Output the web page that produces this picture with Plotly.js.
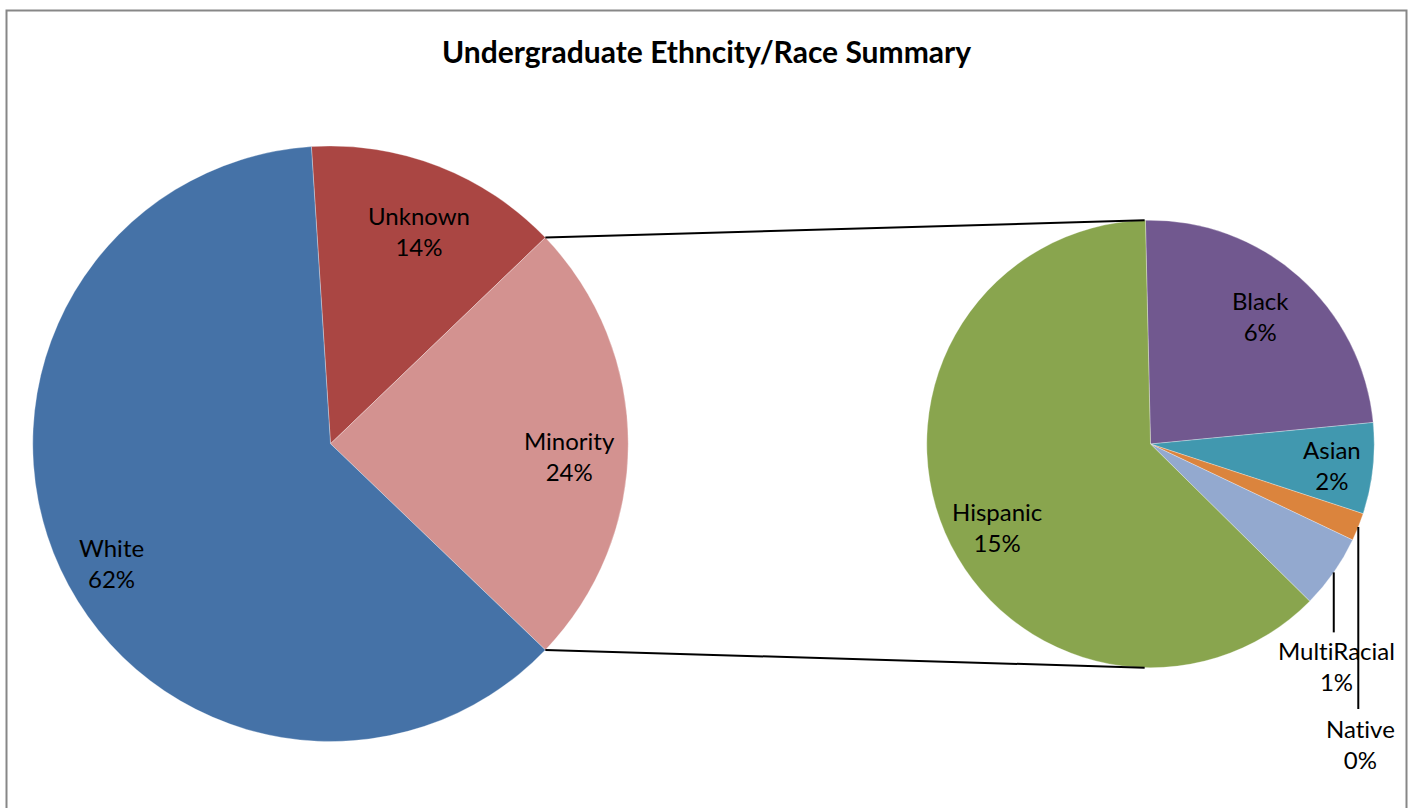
<!DOCTYPE html>
<html><head><meta charset="utf-8">
<script src="https://cdn.plot.ly/plotly-3.0.1.min.js"></script>
<style>html,body{margin:0;padding:0;background:#fff;overflow:hidden}#chart{width:1413px;height:808px;}
svg text{font-variant-ligatures:none;font-feature-settings:"liga" 0,"clig" 0;}</style>
</head><body><div id="chart"></div>
<script>
// ---- data ----
const mainLabels = ['Unknown', 'Minority', 'White'];
const mainValues = [13.85, null, 61.8];           // Minority = sum of minorityValues
const minorityLabels = ['Black', 'Asian', 'Native', 'MultiRacial', 'Hispanic'];
const minorityValues = [5.8, 1.6, 0.49, 1.3, 15.15];
const titleText = 'Undergraduate Ethncity/Race Summary';

// ---- style ----
const mainColors = ['#AA4643', '#D39290', '#4572A7'];
const minorityColors = ['#71588F', '#4198AF', '#DB843D', '#93A9CF', '#89A54E'];
const mainLabelRadius = [0.776, 0.805, 0.836];
const mainLabelAngleShift = [1.4, 3, -3.6];
const minorityLabelRadius = [0.754, 0.817, null, null, 0.78];
const minorityLabelAngleShift = [-1, 0.4, 0, 0, -4.9];
const outsideLeader = {Native: [182, 35, 2], MultiRacial: [60, 34, 2.5]}; // line length, label gap, x shift (px)

const W = 1413, H = 808;
const FONT = 'Lato, "Open Sans", sans-serif';
const LABEL_SIZE = 24;

const minorityTotal = minorityValues.reduce((a, b) => a + b, 0);
const mainVals = mainValues.map((v, i) => mainLabels[i] === 'Minority' ? minorityTotal : v);
const grandTotal = mainVals.reduce((a, b) => a + b, 0);
const pct = v => Math.round(v / grandTotal * 100) + '%';

// geometry of the two pies (pixels)
const P1 = {cx: 330.5, cy: 443.75, r: 297.75};
const P2 = {cx: 1150.5, cy: 444, r: 223.75};
const dom = p => ({x: [(p.cx - p.r) / W, (p.cx + p.r) / W], y: [1 - (p.cy + p.r) / H, 1 - (p.cy - p.r) / H]});
const pt = (p, ang, f) => {
  const a = ang * Math.PI / 180;
  return [p.cx + p.r * f * Math.sin(a), p.cy - p.r * f * Math.cos(a)];
};
const toPaper = xy => [xy[0] / W, 1 - xy[1] / H];

// main pie: Minority slice centred on 3 o'clock
const mIdx = mainLabels.indexOf('Minority');
let before = 0;
for (let i = 0; i < mIdx; i++) before += mainVals[i];
const mainRot = 90 - (minorityTotal / grandTotal * 360) / 2 - before / grandTotal * 360;
const minorityRot = -1.3;

function slices(vals, rot) {
  const tot = vals.reduce((a, b) => a + b, 0);
  let a = rot; const out = [];
  vals.forEach(v => { const s = v / tot * 360; out.push({start: a, end: a + s, mid: a + s / 2}); a += s; });
  return out;
}
const mainSl = slices(mainVals, mainRot);
const minSl = slices(minorityValues, minorityRot);

const annotations = [];
const shapes = [];
const lblFont = {family: FONT, size: LABEL_SIZE, color: '#000'};

mainLabels.forEach((l, i) => {
  const p = toPaper(pt(P1, mainSl[i].mid + mainLabelAngleShift[i], mainLabelRadius[i]));
  annotations.push({x: p[0], y: p[1], xref: 'paper', yref: 'paper', xanchor: 'center', yanchor: 'middle',
    text: l + '<br>' + pct(mainVals[i]), showarrow: false, font: lblFont});
});
minorityLabels.forEach((l, i) => {
  if (outsideLeader[l]) {
    const [len, gap, dx] = outsideLeader[l];
    const s = pt(P2, minSl[i].mid, 1);
    const e = [s[0], s[1] + len];
    const ps = toPaper(s), pe = toPaper(e);
    shapes.push({type: 'line', xref: 'paper', yref: 'paper', x0: ps[0], y0: ps[1], x1: pe[0], y1: pe[1],
      line: {color: '#000', width: 2}});
    const lp = toPaper([e[0] + dx, e[1] + gap]);
    annotations.push({x: lp[0], y: lp[1], xref: 'paper', yref: 'paper', xanchor: 'center', yanchor: 'middle',
      text: l + '<br>' + pct(minorityValues[i]), showarrow: false, font: lblFont});
  } else {
    const p = toPaper(pt(P2, minSl[i].mid + minorityLabelAngleShift[i], minorityLabelRadius[i]));
    annotations.push({x: p[0], y: p[1], xref: 'paper', yref: 'paper', xanchor: 'center', yanchor: 'middle',
      text: l + '<br>' + pct(minorityValues[i]), showarrow: false, font: lblFont});
  }
});

// connector lines between the Minority slice and the secondary pie
const ms = mainSl[mIdx];
const c1a = toPaper(pt(P1, ms.start, 1)), c1b = toPaper(pt(P2, -1.5, 1));
const c2a = toPaper(pt(P1, ms.end, 1)), c2b = toPaper(pt(P2, 181.5, 1));
shapes.push({type: 'line', xref: 'paper', yref: 'paper', x0: c1a[0], y0: c1a[1], x1: c1b[0], y1: c1b[1], line: {color: '#000', width: 2}});
shapes.push({type: 'line', xref: 'paper', yref: 'paper', x0: c2a[0], y0: c2a[1], x1: c2b[0], y1: c2b[1], line: {color: '#000', width: 2}});

// chart border
shapes.push({type: 'rect', xref: 'paper', yref: 'paper', x0: 6.5 / W, x1: 1406.5 / W, y0: -0.05, y1: 1 - 10.5 / H,
  line: {color: '#878787', width: 2}, layer: 'below'});

const traces = [
  {type: 'pie', labels: mainLabels, values: mainVals, sort: false, direction: 'clockwise', rotation: mainRot,
   domain: dom(P1), marker: {colors: mainColors, line: {color: 'rgba(255,255,255,0.6)', width: 0.5}},
   textinfo: 'none', hoverinfo: 'label+percent', showlegend: false},
  {type: 'pie', labels: minorityLabels, values: minorityValues, sort: false, direction: 'clockwise', rotation: minorityRot,
   domain: dom(P2), marker: {colors: minorityColors, line: {color: 'rgba(255,255,255,0.6)', width: 0.5}},
   textinfo: 'none', hoverinfo: 'label+value', showlegend: false}
];

const layout = {
  width: W, height: H, margin: {l: 0, r: 0, t: 0, b: 0},
  paper_bgcolor: '#fff', plot_bgcolor: '#fff', showlegend: false,
  title: {text: '<b>' + titleText + '</b>', x: 0.5, xanchor: 'center', y: 1 - 52 / H, yanchor: 'middle',
    font: {family: FONT, size: 30, color: '#000'}},
  annotations: annotations, shapes: shapes
};
Plotly.newPlot('chart', traces, layout, {displayModeBar: false, staticPlot: true});
</script></body></html>
